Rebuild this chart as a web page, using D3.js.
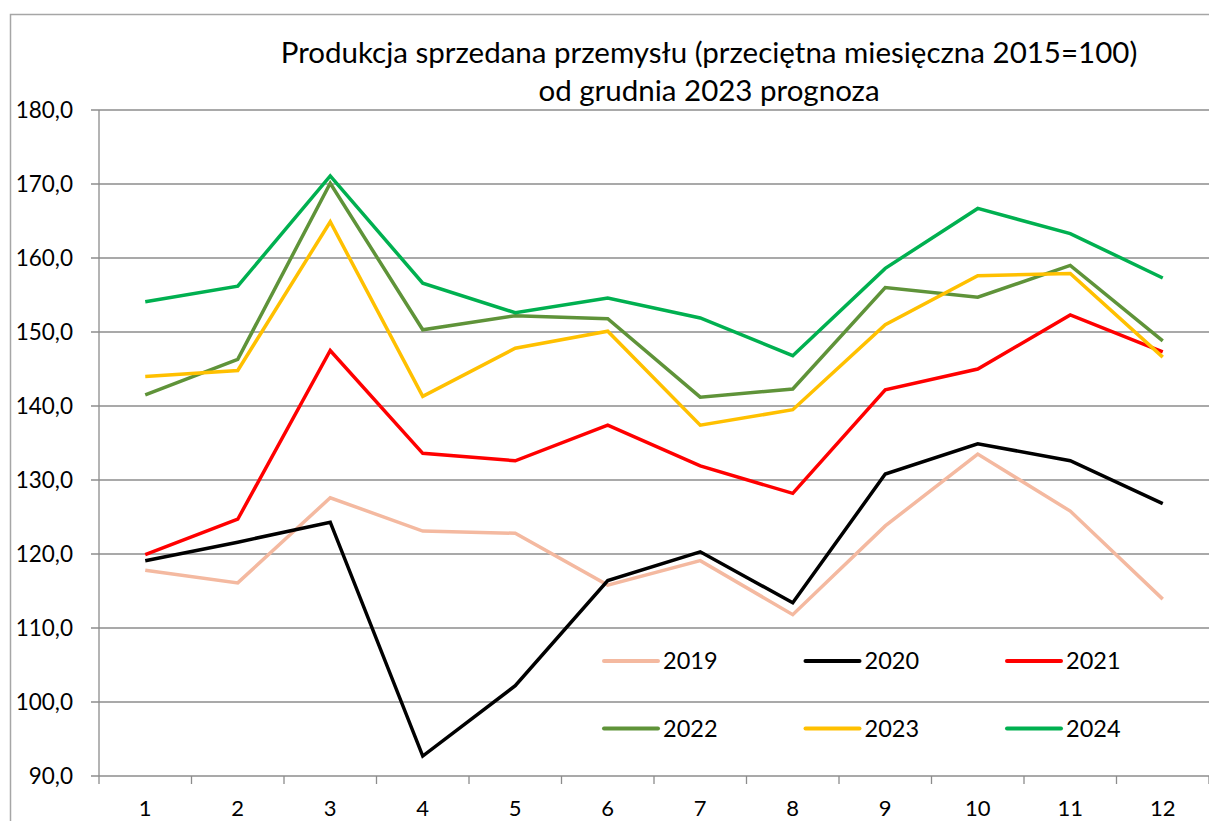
<!DOCTYPE html>
<html>
<head>
<meta charset="utf-8">
<script src="https://cdn.jsdelivr.net/npm/d3@7"></script>
<style>
  body { margin: 0; background: #fff; }
  svg { display: block; font-family: Lato, "Open Sans", sans-serif; }
</style>
</head>
<body>
<div class="chart"></div>
<script>
const months = ["1", "2", "3", "4", "5", "6", "7", "8", "9", "10", "11", "12"];
const years = ["2019", "2020", "2021", "2022", "2023", "2024"];
const yTicks = [90, 100, 110, 120, 130, 140, 150, 160, 170, 180];

const v2019 = [117.8, 116.1, 127.6, 123.1, 122.8, 115.8, 119.1, 111.8, 123.8, 133.5, 125.8, 113.9];
const v2020 = [119.1, 121.6, 124.3, 92.7, 102.2, 116.4, 120.3, 113.4, 130.8, 134.9, 132.6, 126.8];
const v2021 = [119.9, 124.7, 147.5, 133.6, 132.6, 137.4, 131.9, 128.2, 142.2, 145.0, 152.3, 147.3];
const v2022 = [141.5, 146.3, 170.1, 150.3, 152.2, 151.8, 141.2, 142.3, 156.0, 154.7, 159.0, 148.8];
const v2023 = [144.0, 144.8, 164.9, 141.3, 147.8, 150.1, 137.4, 139.5, 151.0, 157.6, 157.9, 146.6];
const v2024 = [154.1, 156.2, 171.1, 156.6, 152.6, 154.6, 151.9, 146.8, 158.6, 166.7, 163.3, 157.3];

const seriesValues = [v2019, v2020, v2021, v2022, v2023, v2024];
const colors = ["#F4B9A0", "#000000", "#FF0000", "#5F9339", "#FFC000", "#00B050"];

const W = 1209, H = 821;
const svg = d3.select(".chart").append("svg")
    .attr("width", W)
    .attr("height", H);

// outer chart border
svg.append("rect")
    .attr("x", 10.5).attr("y", 14.5)
    .attr("width", W + 20).attr("height", H + 20)
    .attr("fill", "none")
    .attr("stroke", "#a6a6a6")
    .attr("stroke-width", 1.5);

const x = d3.scaleBand().domain(months).range([99, 1209]);
const y = d3.scaleLinear().domain([90, 180]).range([776, 110]);

// gridlines
svg.append("g")
    .selectAll("line")
    .data(yTicks)
    .join("line")
    .attr("x1", 91).attr("x2", W)
    .attr("y1", d => y(d)).attr("y2", d => y(d))
    .attr("stroke", "#8c8c8c")
    .attr("stroke-width", 1.3);

// y axis line
svg.append("line")
    .attr("x1", 99).attr("x2", 99)
    .attr("y1", y(180)).attr("y2", y(90))
    .attr("stroke", "#8c8c8c")
    .attr("stroke-width", 1.3);

// y labels
svg.append("g")
    .selectAll("text")
    .data(yTicks)
    .join("text")
    .attr("x", 73)
    .attr("y", d => y(d))
    .attr("dy", "0.35em")
    .attr("text-anchor", "end")
    .style("font-size", "22.5px")
    .text(d => d.toFixed(1).replace(".", ","));

// x tick marks between categories
const bounds = months.map(m => x(m)).concat([x(months[months.length - 1]) + x.bandwidth()]);
svg.append("g")
    .selectAll("line")
    .data(bounds)
    .join("line")
    .attr("x1", d => d).attr("x2", d => d)
    .attr("y1", y(90)).attr("y2", y(90) + 8)
    .attr("stroke", "#8c8c8c")
    .attr("stroke-width", 1.3);

// x labels
svg.append("g")
    .selectAll("text")
    .data(months)
    .join("text")
    .attr("x", d => x(d) + x.bandwidth() / 2)
    .attr("y", 816)
    .attr("text-anchor", "middle")
    .style("font-size", "22px")
    .text(d => d);

// lines
const line = d3.line()
    .x((d, i) => x(months[i]) + x.bandwidth() / 2)
    .y(d => y(d));

svg.append("g")
    .selectAll("path")
    .data(seriesValues)
    .join("path")
    .attr("d", line)
    .attr("fill", "none")
    .attr("stroke", (d, i) => colors[i])
    .attr("stroke-width", 3.5)
    .attr("stroke-linejoin", "miter");

// title
const title = svg.append("text")
    .attr("text-anchor", "middle")
    .style("font-size", "29.5px");
title.append("tspan").attr("x", 709).attr("y", 63)
    .text("Produkcja sprzedana przemysłu (przeciętna miesięczna 2015=100)");
title.append("tspan").attr("x", 709).attr("y", 101)
    .text("od grudnia 2023 prognoza");

// legend
const legend = svg.append("g")
    .selectAll("g")
    .data(years)
    .join("g")
    .attr("transform", (d, i) => `translate(${604 + (i % 3) * 201.5}, ${661 + Math.floor(i / 3) * 67.5})`);

legend.append("line")
    .attr("x1", 0).attr("x2", 54)
    .attr("y1", 0).attr("y2", 0)
    .attr("stroke", (d, i) => colors[i])
    .attr("stroke-width", 4)
    .attr("stroke-linecap", "round");

legend.append("text")
    .attr("x", 59)
    .attr("y", 0)
    .attr("dy", "0.35em")
    .style("font-size", "23.5px")
    .text(d => d);
</script>
</body>
</html>
